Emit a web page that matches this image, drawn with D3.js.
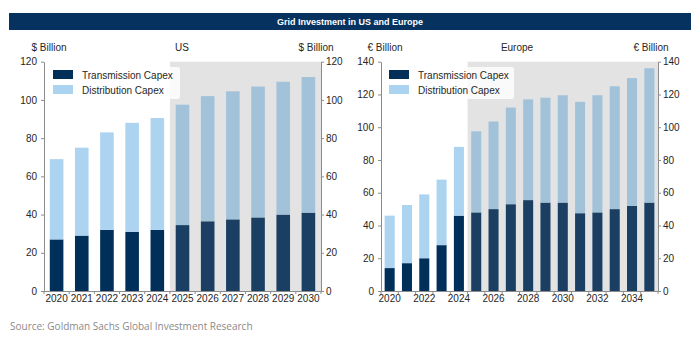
<!DOCTYPE html>
<html>
<head>
<meta charset="utf-8">
<script src="https://cdn.jsdelivr.net/npm/d3@7"></script>
<style>
  html, body { margin: 0; padding: 0; background: #ffffff; }
  svg { display: block; }
  text { font-family: "Liberation Sans", Arial, sans-serif; }
</style>
</head>
<body>
<svg id="chart" width="700" height="339"></svg>
<script>
// ---- data -------------------------------------------------------------
const usYears = ["2020","2021","2022","2023","2024","2025","2026","2027","2028","2029","2030"];
const usTransmission = [27, 29, 32, 31, 32, 34.5, 36.5, 37.5, 38.5, 40, 41];
const usDistribution = [42, 46, 51, 57, 58.5, 63, 65.5, 67, 68.5, 69.5, 71];
const usTicks = [0, 20, 40, 60, 80, 100, 120];
const usLabels = usYears;

const euYears = ["2020","2021","2022","2023","2024","2025","2026","2027","2028","2029","2030","2031","2032","2033","2034","2035"];
const euTransmission = [14, 17, 20, 28, 46, 48, 50, 53, 55.5, 54, 54, 47.5, 48, 50, 52, 54];
const euDistribution = [32, 35.5, 39, 40, 42, 49.5, 53.5, 59, 61.5, 64, 65.5, 68, 71.5, 75, 78, 82];
const euTicks = [0, 20, 40, 60, 80, 100, 120, 140];
const euLabels = ["2020","2022","2024","2026","2028","2030","2032","2034"];

const forecastStart = "2025";
const seriesNames = ["Transmission Capex", "Distribution Capex"];

// ---- styling ----------------------------------------------------------
const colors = {
  trans: "#00305a", dist: "#acd3f0",
  transF: "#1b3f62", distF: "#a2c2da",
  shade: "#e3e3e3", axis: "#8c8c8c", text: "#262626"
};

const svg = d3.select("#chart");

// title bar
svg.append("rect").attr("x", 9).attr("y", 13).attr("width", 682).attr("height", 17)
  .attr("fill", "#05325e");
svg.append("text").attr("x", 350).attr("y", 25).attr("text-anchor", "middle")
  .attr("fill", "#ffffff").attr("font-size", 9).attr("font-weight", "bold")
  .text("Grid Investment in US and Europe");

// source line
svg.append("text").attr("x", 10).attr("y", 330)
  .style("font-family", "'Open Sans', sans-serif")
  .attr("font-size", 10).attr("fill", "#8a8a8a")
  .text("Source: Goldman Sachs Global Investment Research");

function panel(opt) {
  const g = svg.append("g");
  const top = 61.7, bottom = 291;
  const x = d3.scaleBand().domain(opt.years).range([opt.x0, opt.x1])
    .paddingInner(opt.pad).paddingOuter(opt.pad / 2);
  const y = d3.scaleLinear().domain([0, opt.max]).range([bottom, top]);

  const slotLeft = d => x(d) - x.step() * x.paddingInner() / 2;

  // forecast shading
  g.append("rect")
    .attr("x", slotLeft(forecastStart)).attr("y", top)
    .attr("width", opt.x1 - slotLeft(forecastStart)).attr("height", bottom - top)
    .attr("fill", colors.shade);

  const rows = opt.years.map((yr, i) => ({
    yr, t: opt.trans[i], d: opt.dist[i], f: +yr >= +forecastStart
  }));

  // stacked bars
  g.selectAll(".bt").data(rows).join("rect")
    .attr("x", d => x(d.yr)).attr("width", x.bandwidth())
    .attr("y", d => y(d.t)).attr("height", d => y(0) - y(d.t))
    .attr("fill", d => d.f ? colors.transF : colors.trans);
  g.selectAll(".bd").data(rows).join("rect")
    .attr("x", d => x(d.yr)).attr("width", x.bandwidth())
    .attr("y", d => y(d.t + d.d)).attr("height", d => y(d.t) - y(d.t + d.d))
    .attr("fill", d => d.f ? colors.distF : colors.dist);

  // left axis
  const la = g.append("g").attr("transform", `translate(${opt.x0},0)`)
    .call(d3.axisLeft(y).tickValues(opt.ticks).tickSize(3).tickSizeOuter(0).tickPadding(4));
  // right axis
  const ra = g.append("g").attr("transform", `translate(${opt.x1},0)`)
    .call(d3.axisRight(y).tickValues(opt.ticks).tickSize(3).tickSizeOuter(0).tickPadding(2));
  [la, ra].forEach(a => {
    a.select(".domain").attr("stroke", colors.axis);
    a.selectAll(".tick line").attr("stroke", colors.axis);
    a.selectAll(".tick text").attr("fill", colors.text).attr("font-size", 10)
      .style("font-family", "'Liberation Sans', Arial, sans-serif");
  });

  // bottom axis: baseline, boundary ticks, year labels
  const ba = g.append("g");
  ba.append("line").attr("x1", opt.x0).attr("x2", opt.x1)
    .attr("y1", bottom + 0.5).attr("y2", bottom + 0.5).attr("stroke", colors.axis);
  const bounds = opt.years.map(slotLeft).concat([opt.x1]);
  ba.selectAll("line.tk").data(bounds).join("line").attr("class", "tk")
    .attr("x1", d => d).attr("x2", d => d)
    .attr("y1", bottom).attr("y2", bottom + 3).attr("stroke", colors.axis);
  ba.selectAll("text").data(opt.labels).join("text")
    .attr("x", d => x(d) + x.bandwidth() / 2).attr("y", bottom + 11)
    .attr("text-anchor", "middle").attr("font-size", 10).attr("fill", colors.text)
    .text(d => d);

  // header labels
  const hdr = [[opt.unitL, opt.unitLx], [opt.region, opt.regionX], [opt.unitR, opt.unitRx]];
  g.selectAll("text.hdr").data(hdr).join("text").attr("class", "hdr")
    .attr("x", d => d[1]).attr("y", 51).attr("text-anchor", "middle")
    .attr("font-size", 10).attr("fill", colors.text).text(d => d[0]);

  // legend
  const lg = g.append("g");
  lg.append("rect").attr("x", opt.lx).attr("y", 67).attr("width", opt.lw).attr("height", 32)
    .attr("rx", 2).attr("fill", "#ffffff").attr("fill-opacity", 0.8);
  seriesNames.forEach((name, i) => {
    lg.append("rect").attr("x", opt.lx + 6).attr("y", 70 + i * 15).attr("width", 20).attr("height", 9)
      .attr("fill", i === 0 ? colors.trans : colors.dist);
    lg.append("text").attr("x", opt.lx + 35).attr("y", 78.5 + i * 15)
      .attr("font-size", 10).attr("fill", colors.text).text(name);
  });
}

panel({
  years: usYears, trans: usTransmission, dist: usDistribution, ticks: usTicks, labels: usLabels,
  max: 120, x0: 44, x1: 321, pad: 0.46,
  unitL: "$ Billion", unitLx: 49, region: "US", regionX: 182, unitR: "$ Billion", unitRx: 316,
  lx: 47, lw: 133
});

panel({
  years: euYears, trans: euTransmission, dist: euDistribution, ticks: euTicks, labels: euLabels,
  max: 140, x0: 381, x1: 658, pad: 0.42,
  unitL: "€ Billion", unitLx: 385, region: "Europe", regionX: 517, unitR: "€ Billion", unitRx: 651,
  lx: 383, lw: 131
});
</script>
</body>
</html>
